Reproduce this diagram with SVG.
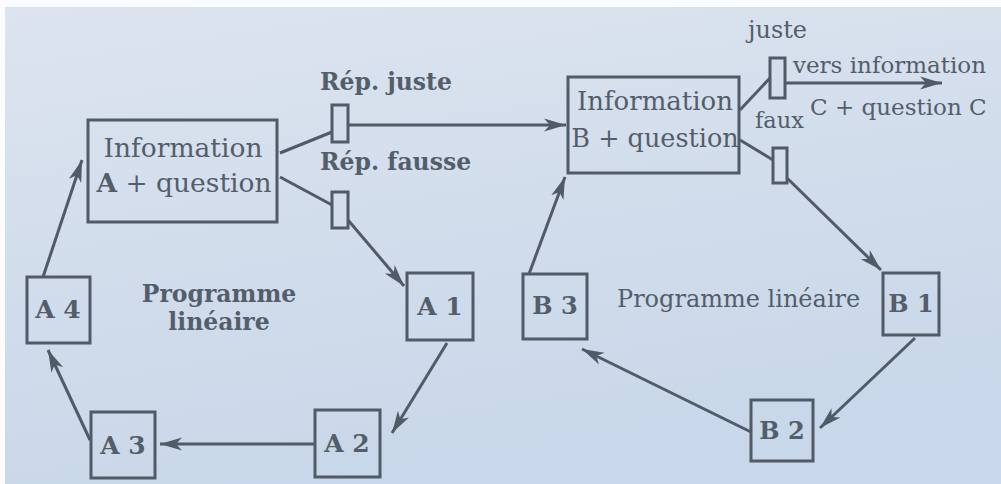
<svg xmlns="http://www.w3.org/2000/svg" width="1001" height="484" viewBox="0 0 1001 484">
<defs>
<style>
.box{fill:none;stroke:#505b67;stroke-width:3}
.gate{fill:#d2deec;stroke:#505b67;stroke-width:3}
.ln{fill:none;stroke:#505b67;stroke-width:3}
.t{font-family:"DejaVu Serif","Liberation Serif",serif;fill:#535e6a}
.b{font-weight:bold}
</style>
<linearGradient id="bgg" x1="0" y1="0" x2="0.3" y2="1">
<stop offset="0" stop-color="#dde4ef"/>
<stop offset="1" stop-color="#c8d7e9"/>
</linearGradient>
<marker id="ah" markerUnits="userSpaceOnUse" markerWidth="24" markerHeight="16" viewBox="0 0 24 16" refX="22" refY="8" orient="auto">
<path d="M0,1.5 L22,8 L0,14.5 L6,8 Z" fill="#505b67"/>
</marker>
</defs>
<rect x="0" y="0" width="1001" height="484" fill="url(#bgg)"/>
<rect x="0" y="0" width="1001" height="7" fill="#fbfcfd"/>
<rect x="0" y="0" width="5" height="484" fill="#fbfcfd"/>

<g id="connectors">
<path class="ln" d="M280,153 L332,132"/>
<path class="ln" d="M348,125 L566,125" marker-end="url(#ah)"/>
<path class="ln" d="M280,177 L332,205"/>
<path class="ln" d="M348,220 L404,286" marker-end="url(#ah)"/>
<path class="ln" d="M447,343 L392,433" marker-end="url(#ah)"/>
<path class="ln" d="M315,444 L160,444" marker-end="url(#ah)"/>
<path class="ln" d="M90,440 L48,350" marker-end="url(#ah)"/>
<path class="ln" d="M43,277 L82,160" marker-end="url(#ah)"/>
<path class="ln" d="M740,110 L770,78"/>
<path class="ln" d="M785,83 L942,83" marker-end="url(#ah)"/>
<path class="ln" d="M740,140 L773,160"/>
<path class="ln" d="M787,178 L881,270" marker-end="url(#ah)"/>
<path class="ln" d="M915,338 L820,428" marker-end="url(#ah)"/>
<path class="ln" d="M751,432 L582,349" marker-end="url(#ah)"/>
<path class="ln" d="M529,274 L565,177" marker-end="url(#ah)"/>
</g>

<g id="gates">
<rect class="gate" x="332" y="105" width="16" height="37"/>
<rect class="gate" x="332" y="192" width="16" height="36"/>
<rect class="gate" x="770" y="58" width="15" height="40"/>
<rect class="gate" x="773" y="148" width="14" height="35"/>
</g>

<g id="infoA">
<rect class="box" x="88" y="120" width="189" height="102"/>
<text class="t" x="183" y="157" font-size="26.5" text-anchor="middle">Information</text>
<text class="t" x="184" y="192" font-size="26.5" text-anchor="middle"><tspan class="b">A</tspan> + question</text>
</g>
<g id="infoB">
<rect class="box" x="568" y="77" width="171" height="96"/>
<text class="t" x="655" y="110" font-size="26" text-anchor="middle">Information</text>
<text class="t" x="655" y="147" font-size="25.5" text-anchor="middle">B + question</text>
</g>
<g id="A1"><rect class="box" x="407" y="273" width="66" height="67"/><text class="t b" x="440" y="315" font-size="25" text-anchor="middle">A 1</text></g>
<g id="A2"><rect class="box" x="315" y="410" width="65" height="67"/><text class="t b" x="347" y="452" font-size="25" text-anchor="middle">A 2</text></g>
<g id="A3"><rect class="box" x="91" y="412" width="64" height="66"/><text class="t b" x="123" y="454" font-size="25" text-anchor="middle">A 3</text></g>
<g id="A4"><rect class="box" x="27" y="277" width="63" height="66"/><text class="t b" x="58" y="318" font-size="25" text-anchor="middle">A 4</text></g>
<g id="B1"><rect class="box" x="883" y="273" width="56" height="62"/><text class="t b" x="911" y="312" font-size="24" text-anchor="middle">B 1</text></g>
<g id="B2"><rect class="box" x="751" y="400" width="62" height="61"/><text class="t b" x="782" y="439" font-size="24" text-anchor="middle">B 2</text></g>
<g id="B3"><rect class="box" x="523" y="274" width="64" height="65"/><text class="t b" x="555" y="314" font-size="24" text-anchor="middle">B 3</text></g>

<g id="labels">
<text class="t b" x="320" y="90" font-size="23.5">Rép. juste</text>
<text class="t b" x="320" y="170" font-size="23.5">Rép. fausse</text>
<text class="t b" x="219" y="302" font-size="23.5" text-anchor="middle">Programme</text>
<text class="t b" x="219" y="330" font-size="23.5" text-anchor="middle">linéaire</text>
<text class="t" x="748" y="38" font-size="24">juste</text>
<text class="t" x="793" y="73" font-size="23">vers information</text>
<text class="t" x="810" y="115" font-size="23">C + question C</text>
<text class="t" x="755" y="128" font-size="22.5">faux</text>
<text class="t" x="617" y="307" font-size="24">Programme linéaire</text>
</g>
</svg>
